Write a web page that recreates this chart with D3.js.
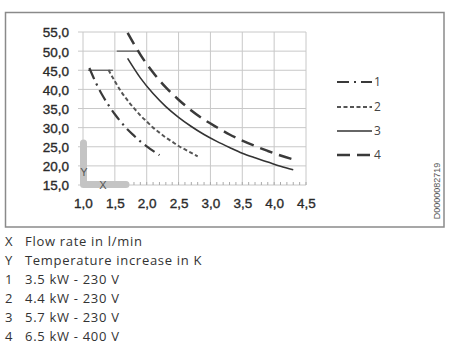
<!DOCTYPE html>
<html><head><meta charset="utf-8">
<script src="https://cdn.jsdelivr.net/npm/d3@7"></script>
<style>body{margin:0;background:#fff}svg{display:block}</style>
</head><body>
<svg id="c" width="457" height="358"></svg>
<script>
const xTicks = [1.0,1.5,2.0,2.5,3.0,3.5,4.0,4.5];
const yTicks = [15,20,25,30,35,40,45,50,55];
const s1x = [1.1,1.2,1.3,1.4,1.5,1.6,1.7,1.8,1.9,2.0,2.1,2.2];
const s1y = [45.6,41.8,38.6,35.9,33.5,31.4,29.5,27.9,26.4,25.1,23.9,22.8];
const s2x = [1.4,1.5,1.6,1.7,1.8,1.9,2.0,2.1,2.2,2.3,2.4,2.5,2.6,2.7,2.8];
const s2y = [45.1,42.1,39.4,37.1,35.1,33.2,31.6,30.0,28.7,27.4,26.3,25.2,24.3,23.4,22.5];
const s3x = [1.7,1.9,2.1,2.3,2.5,2.7,2.9,3.1,3.3,3.5,3.7,3.9,4.1,4.3];
const s3y = [48.1,43.0,38.9,35.5,32.7,30.3,28.2,26.4,24.8,23.3,22.1,21.0,19.9,19.0];
const s4x = [1.7,1.9,2.1,2.3,2.5,2.7,2.9,3.1,3.3,3.5,3.7,3.9,4.1,4.3];
const s4y = [54.8,49.1,44.4,40.5,37.3,34.5,32.1,30.1,28.2,26.6,25.2,23.9,22.7,21.7];
const capLines = [{x0:1.08,x1:1.47,y:45},{x0:1.53,x1:1.86,y:50}];
const legendNames = ["1","2","3","4"];
const captions = [["X","Flow rate in l/min"],["Y","Temperature increase in K"],["1","3.5 kW - 230 V"],["2","4.4 kW - 230 V"],["3","5.7 kW - 230 V"],["4","6.5 kW - 400 V"]];

const svg = d3.select("#c");
const x = d3.scaleLinear().domain([1.0,4.5]).range([83,306]);
const y = d3.scaleLinear().domain([15,55]).range([185,32]);
const font = "'Liberation Sans', Arial, sans-serif";
const capFont = "'Open Sans', 'Noto Sans', sans-serif";

// frame
svg.append("rect").attr("x",5.5).attr("y",12.5).attr("width",438.5).attr("height",214.5)
  .attr("fill","none").attr("stroke","#8a8a8a").attr("stroke-width",1.5);

// grid
const g = svg.append("g");
g.selectAll(".h").data(yTicks).join("line")
  .attr("x1",78).attr("x2",x(4.5)).attr("y1",d=>y(d)).attr("y2",d=>y(d))
  .attr("stroke","#c8c8c8").attr("stroke-width",1);
g.selectAll(".v").data(xTicks).join("line")
  .attr("x1",d=>x(d)).attr("x2",d=>x(d)).attr("y1",y(55)).attr("y2",y(15))
  .attr("stroke","#c8c8c8").attr("stroke-width",1);
// minor ticks
const minor = d3.range(10,46).map(i=>i/10);
g.selectAll(".m").data(minor).join("line")
  .attr("x1",d=>x(d)).attr("x2",d=>x(d)).attr("y1",y(15)).attr("y2",y(15)-3)
  .attr("stroke","#aaa").attr("stroke-width",1);

// axis labels
const fmt = d=>d3.format(".1f")(d).replace(".",",");
const yAxis = d3.axisLeft(y).tickValues(yTicks).tickSize(0).tickPadding(0).tickFormat(fmt);
svg.append("g").attr("transform","translate(69,0)").call(yAxis)
  .call(s=>s.select(".domain").remove())
  .selectAll("text").attr("font-family",font).attr("font-size",13.5).attr("fill","#2a2a2a")
  .attr("stroke","#2a2a2a").attr("stroke-width",0.35).attr("dy","0.36em");
const xAxis = d3.axisBottom(x).tickValues(xTicks).tickSize(0).tickPadding(0).tickFormat(fmt);
svg.append("g").attr("transform","translate(0,203)").call(xAxis)
  .call(s=>s.select(".domain").remove())
  .selectAll("text").attr("font-family",font).attr("font-size",13.5).attr("fill","#2a2a2a")
  .attr("stroke","#2a2a2a").attr("stroke-width",0.35).attr("dy","0.36em");

// gray L indicator
svg.append("path").attr("d",`M83.5,143 L83.5,184.5 L126,184.5`)
  .attr("fill","none").attr("stroke","#c4c4c4").attr("stroke-width",7)
  .attr("stroke-linecap","round").attr("stroke-linejoin","round");
svg.append("text").attr("x",84).attr("y",176).attr("font-family",font).attr("font-size",11).attr("fill","#555").attr("text-anchor","middle").text("Y");
svg.append("text").attr("x",103).attr("y",189).attr("font-family",font).attr("font-size",11).attr("fill","#555").attr("text-anchor","middle").text("X");

// cap lines
svg.selectAll(".cap").data(capLines).join("line")
  .attr("x1",d=>x(d.x0)).attr("x2",d=>x(d.x1)).attr("y1",d=>y(d.y)).attr("y2",d=>y(d.y))
  .attr("stroke","#555").attr("stroke-width",1.2);

// series
const series = [
  {xs:s1x, ys:s1y, dash:"12,5,2,5", w:2.2, col:"#3a3a3a"},
  {xs:s2x, ys:s2y, dash:"4,2.5", w:2, col:"#555"},
  {xs:s3x, ys:s3y, dash:null, w:1.6, col:"#333"},
  {xs:s4x, ys:s4y, dash:"13,7", w:2.5, col:"#3a3a3a"}
];
const line = d3.line().x(d=>x(d[0])).y(d=>y(d[1])).curve(d3.curveMonotoneX);
series.forEach(s=>{
  svg.append("path").datum(s.xs.map((v,i)=>[v,s.ys[i]])).attr("d",line)
    .attr("fill","none").attr("stroke",s.col).attr("stroke-width",s.w)
    .attr("stroke-dasharray",s.dash);
});

// legend
const ly = [82,107,131,155];
series.forEach((s,i)=>{
  svg.append("line").attr("x1",337).attr("x2",372).attr("y1",ly[i]).attr("y2",ly[i])
    .attr("stroke",s.col).attr("stroke-width",s.w).attr("stroke-dasharray",s.dash);
  svg.append("text").attr("x",374).attr("y",ly[i]).attr("dy","0.36em")
    .attr("font-family",capFont).attr("font-size",12).attr("fill","#444").text(legendNames[i]);
});

// watermark
svg.append("text").attr("transform","translate(440,191) rotate(-90)")
  .attr("text-anchor","middle").attr("font-family",font).attr("font-size",9).attr("fill","#555")
  .text("D0000082719");

// captions
captions.forEach((c,i)=>{
  const yy = 241 + i*19;
  svg.append("text").attr("x",5).attr("y",yy).attr("dy","0.36em").attr("font-family",capFont)
    .attr("font-size",13).attr("fill","#333").text(c[0]);
  svg.append("text").attr("x",25).attr("y",yy).attr("dy","0.36em").attr("font-family",capFont)
    .attr("font-size",13).attr("letter-spacing",0.7).attr("fill","#333").text(c[1]);
});
</script>
</body></html>
